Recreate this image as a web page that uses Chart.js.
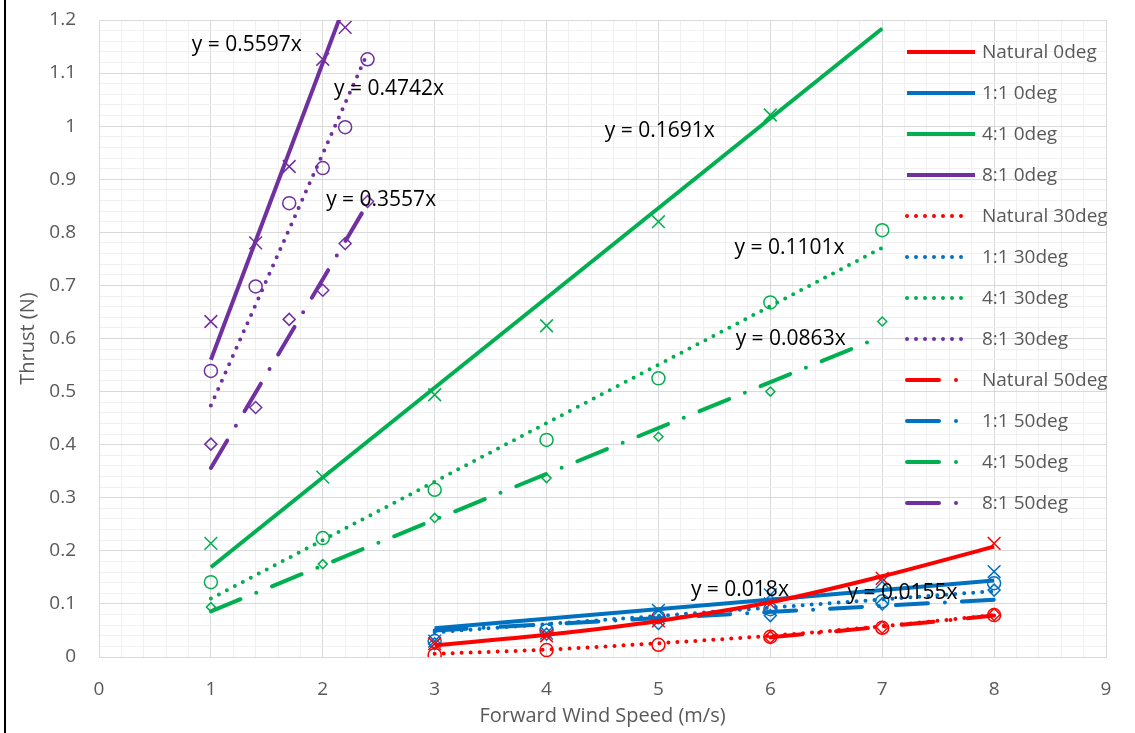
<!DOCTYPE html>
<html>
<head>
<meta charset="utf-8">
<title>Thrust vs Forward Wind Speed</title>
<script src="https://cdn.jsdelivr.net/npm/chart.js@4.4.1/dist/chart.umd.min.js"></script>
<style>
  html, body { margin: 0; padding: 0; background: #fff; }
  #wrap { width: 1135px; height: 733px; }
</style>
</head>
<body>
<div id="wrap"><canvas id="thrust-chart" width="1135" height="733"></canvas></div>
<script>
// ---- measured points (wind speed m/s -> thrust N) ----
const speedLow = [3, 4, 5, 6, 7, 8];
const speedNat50 = [6, 7, 8];
const speed41 = [1, 2, 3, 4, 5, 6, 7];
const speed81 = [1, 1.4, 1.7, 2, 2.2, 2.4];

const natural0 = [0.025, 0.040, 0.068, 0.100, 0.148, 0.214];
const natural30 = [0.004, 0.013, 0.023, 0.038, 0.055, 0.079];
const natural50 = [0.037, 0.056, 0.080];
const oneOne0 = [0.030, 0.045, 0.088, 0.117, 0.142, 0.161];
const oneOne30 = [0.030, 0.050, 0.075, 0.090, 0.105, 0.139];
const oneOne50 = [0.025, 0.043, 0.063, 0.078, 0.100, 0.126];
const fourOne0 = [0.214, 0.339, 0.494, 0.624, 0.820, 1.021];
const fourOne30 = [0.141, 0.224, 0.315, 0.409, 0.525, 0.668, 0.804];
const fourOne50 = [0.094, 0.175, 0.262, 0.337, 0.415, 0.500, 0.632];
const eightOne0 = [0.632, 0.780, 0.924, 1.126, 1.186];
const eightOne30 = [0.539, 0.698, 0.855, 0.921, 0.998, 1.126];
const eightOne50 = [0.401, 0.470, 0.636, 0.691, 0.779, 0.858];

// ---- trendlines ----
const trendXLow = [3, 4, 5, 6, 7, 8];
const trendNatural0 = [0.022, 0.042, 0.068, 0.103, 0.152, 0.208];
const trendNatural30 = [0.006, 0.014, 0.026, 0.040, 0.058, 0.079];
const trendXNat50 = [6, 7, 8];
const trendNatural50 = [0.037, 0.057, 0.078];
const trendX11 = [3, 8];
const trendOneOne0 = [0.054, 0.144];
const trendOneOne30 = [0.0465, 0.124];
const trendOneOne50 = [0.050, 0.108];
const trendX41 = [1, 7];
const trendFourOne0 = [0.169, 1.184];
const trendFourOne30 = [0.110, 0.771];
const trendFourOne50 = [0.086, 0.604];
const trendX81_0 = [1, 2.2];
const trendEightOne0 = [0.560, 1.231];
const trendX81 = [1, 2.4];
const trendEightOne30 = [0.474, 1.138];
const trendEightOne50 = [0.356, 0.854];

const seriesNames = ['Natural 0deg', '1:1 0deg', '4:1 0deg', '8:1 0deg',
                     'Natural 30deg', '1:1 30deg', '4:1 30deg', '8:1 30deg',
                     'Natural 50deg', '1:1 50deg', '4:1 50deg', '8:1 50deg'];

const equationTexts = ['y = 0.5597x', 'y = 0.4742x', 'y = 0.3557x', 'y = 0.1691x',
                       'y = 0.1101x', 'y = 0.0863x', 'y = 0.018x', 'y = 0.0155x'];
// where each equation sits (data units, left edge / middle)
const equationAt = [[0.83, 1.153], [2.10, 1.07], [2.03, 0.861], [4.52, 0.991],
                    [5.68, 0.771], [5.69, 0.599], [5.29, 0.126], [6.69, 0.121]];

const xTickLabels = ['0', '1', '2', '3', '4', '5', '6', '7', '8', '9'];
const yTickLabels = ['0', '0.1', '0.2', '0.3', '0.4', '0.5', '0.6', '0.7', '0.8', '0.9', '1', '1.1', '1.2'];

const RED = '#FF0000', BLUE = '#0070C0', GREEN = '#00B050', PURPLE = '#7030A0';
const FONT = "'Open Sans', 'Liberation Sans', sans-serif";
const GREY_TEXT = '#595959';

const DASH_SOLID = [];
const DASH_DOT = [0, 9];
const DASH_DASHDOT = [32, 17, 0, 17];

function pts(xs, ys) {
    return ys.map((y, i) => ({ x: xs[i], y: y }));
}

function trend(name, xs, ys, color, dash, curved) {
    return {
        label: name,
        isTrend: true,
        data: pts(xs, ys),
        showLine: true,
        pointRadius: 0,
        pointHoverRadius: 0,
        borderColor: color,
        backgroundColor: color,
        borderWidth: 4,
        borderDash: dash,
        borderCapStyle: dash.length ? 'round' : 'butt',
        cubicInterpolationMode: curved ? 'monotone' : 'default',
        tension: curved ? 0.4 : 0,
        clip: 0,
        order: 1
    };
}

function markers(name, xs, ys, color, style, radius) {
    return {
        label: name + ' (data)',
        data: pts(xs, ys),
        showLine: false,
        pointStyle: style,
        pointRadius: radius,
        pointHoverRadius: radius,
        pointBorderWidth: 1.5,
        borderColor: color,
        backgroundColor: 'rgba(0,0,0,0)',
        order: 2
    };
}

const datasets = [
    trend(seriesNames[0], trendXLow, trendNatural0, RED, DASH_SOLID, true),
    trend(seriesNames[1], trendX11, trendOneOne0, BLUE, DASH_SOLID),
    trend(seriesNames[2], trendX41, trendFourOne0, GREEN, DASH_SOLID),
    trend(seriesNames[3], trendX81_0, trendEightOne0, PURPLE, DASH_SOLID),
    trend(seriesNames[4], trendXLow, trendNatural30, RED, DASH_DOT, true),
    trend(seriesNames[5], trendX11, trendOneOne30, BLUE, DASH_DOT),
    trend(seriesNames[6], trendX41, trendFourOne30, GREEN, DASH_DOT),
    trend(seriesNames[7], trendX81, trendEightOne30, PURPLE, DASH_DOT),
    trend(seriesNames[8], trendXNat50, trendNatural50, RED, DASH_DASHDOT, true),
    trend(seriesNames[9], trendX11, trendOneOne50, BLUE, DASH_DASHDOT),
    trend(seriesNames[10], trendX41, trendFourOne50, GREEN, DASH_DASHDOT),
    trend(seriesNames[11], trendX81, trendEightOne50, PURPLE, DASH_DASHDOT),

    markers(seriesNames[0], speedLow, natural0, RED, 'crossRot', 9),
    markers(seriesNames[1], speedLow, oneOne0, BLUE, 'crossRot', 9),
    markers(seriesNames[2], speed41, fourOne0, GREEN, 'crossRot', 9),
    markers(seriesNames[3], speed81, eightOne0, PURPLE, 'crossRot', 9),
    markers(seriesNames[4], speedLow, natural30, RED, 'circle', 6.5),
    markers(seriesNames[5], speedLow, oneOne30, BLUE, 'circle', 6.5),
    markers(seriesNames[6], speed41, fourOne30, GREEN, 'circle', 6.5),
    markers(seriesNames[7], speed81, eightOne30, PURPLE, 'circle', 6.5),
    markers(seriesNames[8], speedNat50, natural50, RED, 'rectRot', 6),
    markers(seriesNames[9], speedLow, oneOne50, BLUE, 'rectRot', 6),
    markers(seriesNames[10], speed41, fourOne50, GREEN, 'rectRot', 4.5),
    markers(seriesNames[11], speed81, eightOne50, PURPLE, 'rectRot', 6)
];

// is v a whole multiple of step (float safe)
function onStep(v, step) {
    const r = v / step;
    return Math.abs(r - Math.round(r)) < 1e-6;
}

// white page + the black frame edge on the left
const backgroundPlugin = {
    id: 'pageBackground',
    beforeDraw(chart) {
        const ctx = chart.ctx;
        ctx.save();
        ctx.fillStyle = '#fff';
        ctx.fillRect(0, 0, chart.width, chart.height);
        ctx.fillStyle = '#000';
        ctx.fillRect(4, 0, 2, chart.height);
        ctx.restore();
    }
};

// trendline equations
const equationPlugin = {
    id: 'equations',
    afterDatasetsDraw(chart) {
        const ctx = chart.ctx;
        const xs = chart.scales.x, ys = chart.scales.y;
        ctx.save();
        ctx.font = '21px ' + FONT;
        ctx.fillStyle = '#000';
        ctx.textAlign = 'left';
        ctx.textBaseline = 'middle';
        equationTexts.forEach((t, i) => {
            ctx.fillText(t, xs.getPixelForValue(equationAt[i][0]), ys.getPixelForValue(equationAt[i][1]));
        });
        ctx.restore();
    }
};

// legend over the right part of the plot, line samples only
const legendPlugin = {
    id: 'sideLegend',
    afterDraw(chart) {
        const ctx = chart.ctx;
        const area = chart.chartArea;
        const left = area.right - 201;
        const textX = area.right - 124;
        const top = area.top + 32;
        ctx.save();
        ctx.font = '19px ' + FONT;
        ctx.textAlign = 'left';
        ctx.textBaseline = 'middle';
        chart.data.datasets.filter(d => d.isTrend).forEach((d, i) => {
            const y = top + i * 41;
            ctx.beginPath();
            ctx.strokeStyle = d.borderColor;
            ctx.lineWidth = 4;
            ctx.lineCap = d.borderCapStyle;
            ctx.setLineDash(d.borderDash);
            ctx.moveTo(left + 2, y);
            ctx.lineTo(left + (d.borderDash.length ? 62 : 70), y);
            ctx.stroke();
            ctx.setLineDash([]);
            ctx.fillStyle = GREY_TEXT;
            ctx.fillText(d.label, textX, y + 1);
        });
        ctx.restore();
    }
};

const ctx = document.getElementById('thrust-chart').getContext('2d');
new Chart(ctx, {
    type: 'scatter',
    data: { datasets: datasets },
    plugins: [backgroundPlugin, equationPlugin, legendPlugin],
    options: {
        responsive: false,
        animation: false,
        devicePixelRatio: 1,
        layout: { padding: { top: 20, right: 29, left: 0, bottom: 0 } },
        plugins: {
            legend: { display: false },
            tooltip: { enabled: false }
        },
        scales: {
            x: {
                type: 'linear',
                min: 0,
                max: 9,
                afterFit: s => { s.height = 76; s.paddingLeft = 0; s.paddingRight = 0; },
                ticks: {
                    stepSize: 0.2,
                    maxTicksLimit: 200,
                    autoSkip: false,
                    maxRotation: 0,
                    padding: 21,
                    color: GREY_TEXT,
                    font: { family: FONT, size: 19 },
                    callback: v => onStep(v, 1) ? xTickLabels[Math.round(v)] : ''
                },
                grid: {
                    drawTicks: false,
                    color: c => onStep(c.tick.value, 1) ? '#d9d9d9' : '#f0f0f0'
                },
                border: { color: '#d9d9d9' },
                title: {
                    display: true,
                    text: 'Forward Wind Speed (m/s)',
                    color: GREY_TEXT,
                    font: { family: FONT, size: 20 },
                    padding: { top: 0, bottom: 5 }
                }
            },
            y: {
                type: 'linear',
                min: 0,
                max: 1.2,
                // fixed axis width, and no extra room above the top label
                afterFit: s => { s.width = 99; s.paddingTop = 0; s.paddingBottom = 0; },
                ticks: {
                    stepSize: 0.02,
                    maxTicksLimit: 200,
                    autoSkip: false,
                    padding: 23,
                    color: GREY_TEXT,
                    font: { family: FONT, size: 19 },
                    callback: v => onStep(v, 0.1) ? yTickLabels[Math.round(v * 10)] : ''
                },
                grid: {
                    drawTicks: false,
                    color: c => onStep(c.tick.value, 0.1) ? '#d9d9d9' : '#f0f0f0'
                },
                border: { color: '#d9d9d9' },
                title: {
                    display: true,
                    text: 'Thrust (N)',
                    color: GREY_TEXT,
                    font: { family: FONT, size: 20 },
                    padding: { top: 16, bottom: 0 }
                }
            }
        }
    }
});
</script>
</body>
</html>
